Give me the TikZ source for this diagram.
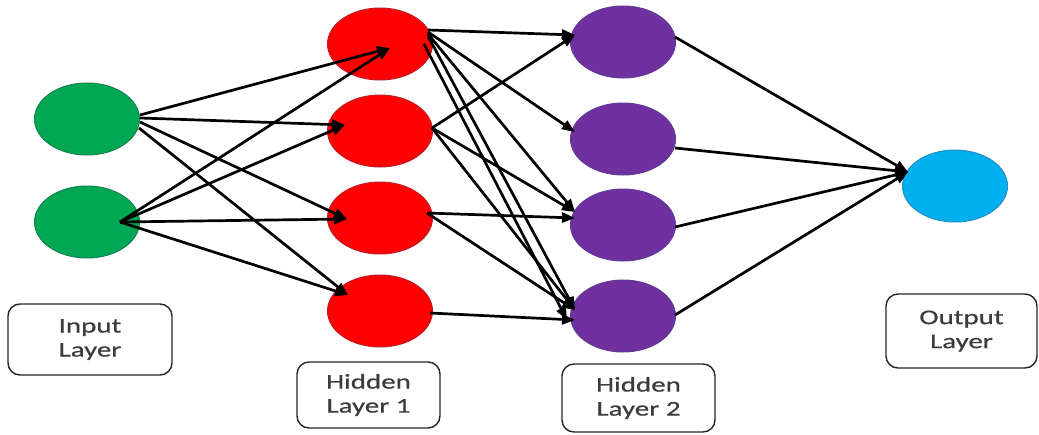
\documentclass[tikz,border=0pt]{standalone}
\usepackage{fontspec}
\setmainfont{Carlito}
\newfontfamily\labfont[FakeStretch=1.38,FakeBold=0.6]{Carlito}
\usetikzlibrary{arrows.meta,calc,shapes.geometric}
\definecolor{ingreen}{RGB}{0,168,84}
\definecolor{ingreenb}{RGB}{20,130,80}
\definecolor{hred}{RGB}{255,0,0}
\definecolor{hredb}{RGB}{190,30,40}
\definecolor{hpurple}{RGB}{112,48,160}
\definecolor{hpurpleb}{RGB}{95,60,150}
\definecolor{ocyan}{RGB}{0,176,240}
\definecolor{ocyanb}{RGB}{40,140,200}
\definecolor{labtext}{RGB}{60,60,60}
\begin{document}
\begin{tikzpicture}[x=1pt,y=-1pt,
  neuron/.style={ellipse,minimum width=105pt,minimum height=72pt,inner sep=0pt,line width=1pt},
  innode/.style={neuron,fill=ingreen,draw=ingreenb},
  hnode/.style={neuron,fill=hred,draw=hredb},
  pnode/.style={neuron,fill=hpurple,draw=hpurpleb},
  onode/.style={neuron,fill=ocyan,draw=ocyanb},
  labbox/.style={draw=black!85,line width=1.4pt,rounded corners=12pt,fill=white,
    text=labtext,font=\labfont\fontsize{21}{24}\selectfont,align=center,inner sep=0pt},
  conn/.style={line width=2.7pt,black,-{Triangle[length=13pt,width=10pt]}}]
\useasboundingbox (0,0) rectangle (1039,434);
% neurons
\node[innode] (i1) at (87,119) {};
\node[innode] (i2) at (87,222) {};
\node[hnode] (h1a) at (380,44) {};
\node[hnode] (h1b) at (380,131) {};
\node[hnode] (h1c) at (380,218) {};
\node[hnode] (h1d) at (380,311) {};
\node[pnode] (h2a) at (623,42) {};
\node[pnode] (h2b) at (623,139) {};
\node[pnode] (h2c) at (623,225) {};
\node[pnode] (h2d) at (623,316) {};
\node[onode] (o) at (955,186) {};
% labels
\node[labbox,minimum width=164pt,minimum height=71pt] (lin) at (90,339.5) {Input\\Layer};
\node[labbox,minimum width=143pt,minimum height=66pt] (lh1) at (368.5,395) {Hidden\\Layer 1};
\node[labbox,minimum width=153pt,minimum height=68pt] (lh2) at (638.5,398) {Hidden\\Layer 2};
\node[labbox,minimum width=151pt,minimum height=74pt] (lout) at (961.5,331) {Output\\Layer};
% input -> hidden 1
\draw[conn] ($(i1)+(53,-4)$) -- ($(h1a)+(10,4)$);
\draw[conn] ($(i1)+(53,-1)$) -- ($(h1b)+(-35,-6)$);
\draw[conn] ($(i1)+(53,3)$) -- ($(h1c)+(-33,1)$);
\draw[conn] ($(i1)+(52,9)$) -- ($(h1d)+(-32,-16)$);
\draw[conn] ($(i2)+(33,0)$) -- ($(h1a)+(10,4)$);
\draw[conn] ($(i2)+(33,0)$) -- ($(h1b)+(-35,-6)$);
\draw[conn] ($(i2)+(33,0)$) -- ($(h1c)+(-33,1)$);
\draw[conn] ($(i2)+(33,0)$) -- ($(h1d)+(-32,-16)$);
% hidden 1 -> hidden 2
\draw[conn] ($(h1a)+(48,-14)$) -- ($(h2a)+(-48,-7)$);
\draw[conn] ($(h1a)+(48,-12)$) -- ($(h2b)+(-48,-7)$);
\draw[conn] ($(h1a)+(48,-10)$) -- ($(h2c)+(-48,-13)$);
\draw[conn] ($(h1a)+(48,-8)$) -- ($(h2d)+(-48,-6)$);
\draw[conn] ($(h1a)+(44,0)$) -- ($(h2d)+(-56,4)$);
\draw[conn] ($(h1b)+(52,-3)$) -- ($(h2a)+(-48,-7)$);
\draw[conn] ($(h1b)+(52,-3)$) -- ($(h2c)+(-48,-13)$);
\draw[conn] ($(h1b)+(52,-3)$) -- ($(h2d)+(-48,-6)$);
\draw[conn] ($(h1c)+(47,-5)$) -- ($(h2c)+(-48,-7)$);
\draw[conn] ($(h1c)+(47,-5)$) -- ($(h2d)+(-48,-6)$);
\draw[conn] ($(h1d)+(50,2)$) -- ($(h2d)+(-48,4)$);
% hidden 2 -> output
\draw[conn] ($(h2a)+(52,-5)$) -- ($(o)+(-47,-14)$);
\draw[conn] ($(h2b)+(52,9)$) -- ($(o)+(-47,-14)$);
\draw[conn] ($(h2c)+(52,2)$) -- ($(o)+(-47,-14)$);
\draw[conn] ($(h2d)+(52,-1)$) -- ($(o)+(-47,-14)$);
\end{tikzpicture}
\end{document}
